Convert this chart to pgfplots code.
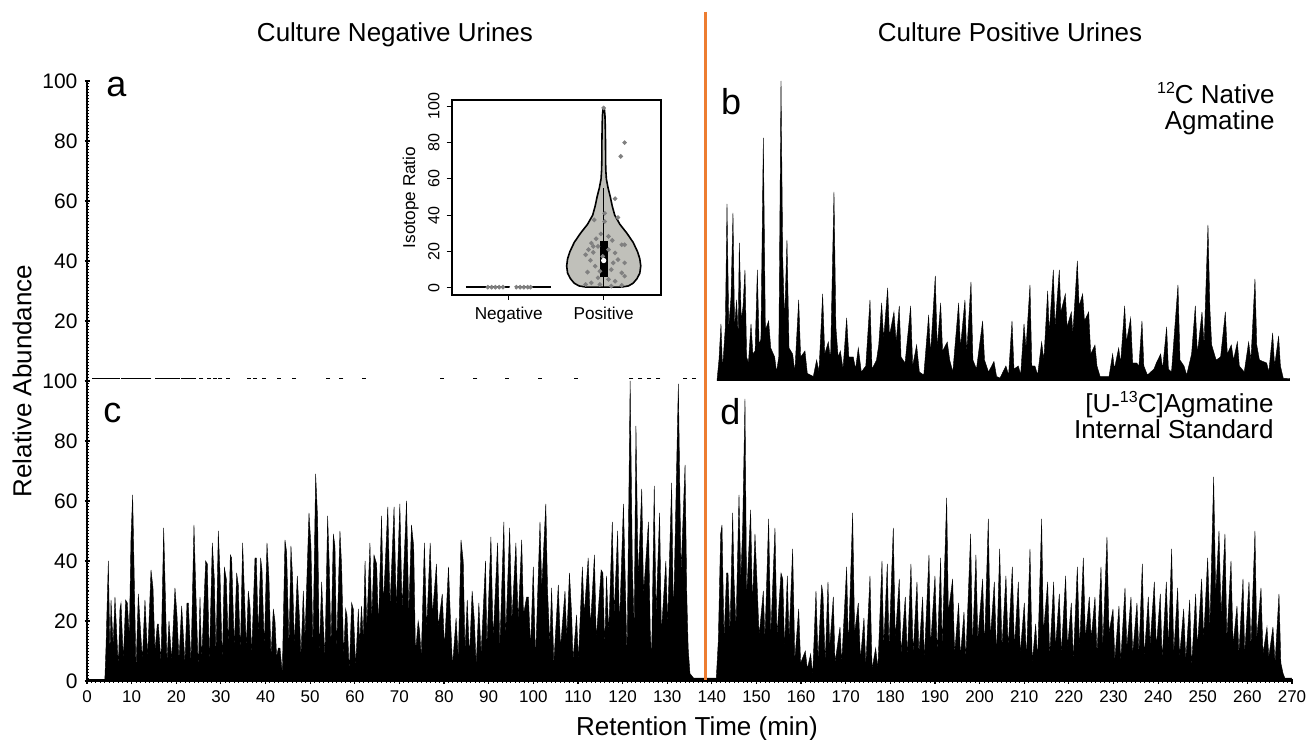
\documentclass[border=0pt]{standalone}
\usepackage{pgfplots}
\pgfplotsset{compat=1.18}
\usepackage{fontspec}
\setmainfont{Liberation Sans}
\definecolor{orangeline}{RGB}{237,125,49}
\definecolor{violinfill}{RGB}{192,192,186}
\definecolor{jit}{RGB}{128,128,128}
\newcommand{\sups}[1]{\raisebox{0.75ex}{\fontsize{8}{9}\selectfont #1}}
\pgfplotsset{
  chrom/.style={scale only axis, width=602.5pt, height=150pt,
    xmin=0, xmax=270, ymin=0, ymax=100,
    tick align=outside, major tick length=2.5pt, minor tick length=1.5pt,
    every tick/.style={black, line width=0.6pt},
    minor tick style={line width=0.5pt},
    /pgf/number format/assume math mode=true,
    yticklabel style={font=\fontsize{10.5}{12}\selectfont},
    xticklabel style={font=\fontsize{8.5}{10}\selectfont},
  }
}
\begin{document}
\begin{tikzpicture}[x=1pt,y=1pt]
\path[use as bounding box, fill=white] (0,0) rectangle (655.5,369.5);
% ---------------- bottom panel (c, d) ----------------
\begin{axis}[chrom, at={(43.5pt,29pt)}, anchor=south west,
  axis x line=bottom, axis y line=left,
  axis line style={-, line width=0.8pt},
  x axis line style={-}, y axis line style={-},
  xtick={0,10,...,270}, minor x tick num=9,
  ytick={0,20,...,100}, minor y tick num=19]
\addplot[fill=black, draw=black, line width=0.2pt] coordinates {
(0,0.6) (4.0,0.6) (4.25,11) (4.78,40) (5.15,8) (5.38,27) (5.85,12) (6.27,28) (7.02,4.7) (7.39,24) (7.62,26) (8.14,7)
(8.66,27) (9.03,26) (9.48,15) (9.86,48) (10.23,62) (10.98,3.6) (11.5,29) (11.87,20) (12.4,7) (12.99,27) (13.59,8)
(14.34,37) (14.79,31) (15.23,10) (15.76,19) (15.98,19) (16.58,6.4) (17.18,51) (17.55,29) (17.92,6) (18.37,20)
(18.97,7) (19.71,31) (20.16,22) (20.61,7) (21.21,25) (21.95,6) (22.4,26) (22.7,26) (23.3,6) (23.97,52) (24.42,28)
(24.94,3.6) (25.32,28) (25.69,7) (26.59,40) (26.96,39) (27.41,6) (28.08,46) (28.53,34) (28.9,8) (29.42,50) (29.8,36)
(30.32,6) (30.77,38) (31.22,34) (31.66,11) (32.11,42) (32.41,41) (33.01,11) (33.53,36) (33.9,32) (34.35,9) (34.87,46)
(35.25,30) (35.7,11) (36.14,30) (36.52,25) (36.89,9) (37.64,41) (37.94,41) (38.38,15) (38.91,41) (39.21,37) (39.73,11)
(40.33,46) (40.77,34) (41.22,8) (41.75,24) (42.12,20) (42.49,8) (42.87,11) (43.24,11) (43.76,2.5) (44.36,47) (44.73,43)
(45.26,11) (45.7,45) (46.08,34) (46.45,12) (47.12,35) (47.57,22) (47.94,8) (48.47,30) (48.84,14) (49.74,56) (50.18,45)
(50.63,11) (51.23,69) (51.68,54) (52.05,9) (52.58,33) (52.87,22) (53.32,8) (53.92,55) (54.29,38) (54.67,11) (55.19,49)
(55.56,45) (55.93,10) (56.68,50) (57.06,38) (57.5,8) (57.95,24) (58.25,22) (58.77,3) (59.3,26) (59.67,24) (60.19,5)
(60.8,24) (61.1,12) (61.5,25) (61.9,14) (62.3,40) (62.7,18) (63.4,46) (63.8,20) (64.3,42) (64.9,39) (65.3,18) (66.0,55)
(66.4,25) (67.4,58) (67.9,25) (68.8,58) (69.3,24) (70.1,59) (70.6,24) (71.6,60) (72.1,22) (72.7,52) (73.2,45) (73.6,9)
(74.2,20) (74.5,17) (74.9,8) (75.6,46) (76.1,17) (76.9,46) (77.4,22) (78.3,39) (78.7,18) (79.6,29) (80.1,11) (81.0,38)
(81.4,22) (81.9,5) (82.7,21) (83.2,7) (83.8,47) (84.3,40) (84.7,10) (85.2,27) (85.7,8) (86.3,30) (86.8,20) (87.2,5)
(87.8,26) (88.3,9) (89.3,40) (89.6,11) (90.5,48) (91.0,14) (92.0,46) (92.5,11) (93.4,53) (93.8,14) (94.7,51) (95.2,20)
(96.1,46) (96.6,20) (97.4,47) (97.8,22) (98.5,28) (98.9,28) (99.4,11) (100.0,38) (100.5,7) (101.5,53) (101.9,31)
(102.8,59) (103.2,30) (103.7,12) (104.1,31) (104.6,6) (105.6,32) (106.1,11) (107.1,30) (107.5,14) (108.1,36) (108.6,22)
(108.9,7) (109.7,22) (110.1,7) (111.0,38) (111.4,22) (112.3,41) (112.8,18) (113.7,42) (114.1,14) (115.2,37) (115.6,36)
(116.0,11) (116.4,35) (116.9,16) (117.7,53) (118.1,22) (118.9,50) (119.3,18) (120.2,59) (120.6,34) (121.0,8) (121.7,100)
(122.2,38) (122.6,18) (123.0,85) (123.5,34) (124.3,64) (124.7,29) (125.8,53) (126.2,17) (126.5,7) (127.1,65) (127.5,22)
(128.3,56) (128.7,16) (129.7,40) (130.1,19) (131.0,66) (131.4,20) (132.5,99) (133.1,36) (134.0,72) (134.4,28) (134.7,11)
(135.1,2.5) (135.9,1) (141.0,1)
(141.46,13.6) (141.98,49) (142.28,52) (142.73,14) (143.32,36) (143.62,36) (144.07,16) (144.67,56) (144.97,34) (145.42,18)
(146.09,62) (146.5,34) (146.91,51) (147.43,94) (147.8,28) (148.7,57) (149.1,25) (149.67,49) (150.1,34) (150.6,15)
(151.54,30) (151.9,14) (152.73,54) (153.2,15) (154.15,51) (154.6,15) (155.5,36) (155.9,34) (156.3,11) (156.92,35)
(157.3,14) (158.11,44) (158.6,7) (159.46,24) (159.9,6) (160.95,10) (161.4,4) (162.14,9) (162.6,2) (163.34,30) (163.8,7)
(164.61,32) (164.9,29) (165.4,6) (166.03,33) (166.4,11) (167.22,28) (167.6,6) (168.72,18) (169.1,6) (170.21,38)
(170.6,11) (171.55,56) (172.0,16) (172.82,26) (173.3,7) (174.09,21) (174.5,5) (175.44,35) (175.9,4) (176.71,11)
(177.2,4) (178.13,40) (178.5,11) (179.32,39) (179.7,11) (180.66,51) (181.1,14) (182.0,34) (182.4,9) (183.35,28)
(183.8,8) (184.62,39) (185.1,9) (185.97,33) (186.4,9) (187.24,28) (187.6,7) (188.66,42) (189.0,11) (190.0,35) (190.5,9)
(191.27,41) (191.6,11) (192.62,61) (193.0,23) (193.96,34) (194.4,9) (195.3,26) (195.7,8) (196.5,23) (196.9,7)
(197.99,49) (198.4,11) (199.18,42) (199.6,14) (200.68,34) (201.1,11) (201.95,54) (202.4,14) (203.3,33) (203.8,8)
(204.5,44) (205.0,11) (205.9,35) (206.4,11) (207.33,38) (207.8,11) (208.68,33) (209.1,9) (210.02,26) (210.5,7)
(211.29,44) (211.8,6) (212.56,19) (213.0,7) (213.9,54) (214.3,16) (215.25,33) (215.7,8) (216.59,33) (217.0,11)
(217.86,29) (218.3,9) (219.28,35) (219.7,11) (220.55,26) (221.0,7) (221.9,38) (222.4,11) (223.24,41) (223.7,14)
(224.58,28) (225.0,14) (225.85,28) (226.3,9) (227.2,38) (227.6,11) (228.54,48) (229.0,16) (229.89,24) (230.3,7)
(231.23,25) (231.6,6) (232.58,31) (233.0,11) (233.92,28) (234.3,9) (235.26,26) (235.7,9) (236.46,39) (236.9,8)
(237.8,28) (238.2,12) (239.15,33) (239.6,11) (240.49,29) (240.9,7) (241.84,33) (242.3,11) (243.03,44) (243.5,9)
(244.38,31) (244.8,8) (245.72,24) (246.2,7) (247.07,27) (247.5,5) (248.41,29) (248.8,11) (249.75,34) (250.2,14)
(251.1,41) (251.6,18) (252.44,68) (252.9,29) (253.64,50) (254.1,22) (254.98,49) (255.4,14) (256.33,40) (256.8,12)
(257.67,25) (258.1,9) (259.02,34) (259.4,9) (260.36,33) (260.8,11) (261.7,50) (262.1,14) (263.05,31) (263.5,9)
(264.39,18) (264.8,8) (265.73,18) (266.2,6) (267.08,29) (267.5,6) (268.0,2.5) (268.4,1) (269.9,1)
} \closedcycle;
\end{axis}
% ---------------- top panel (a, b) ----------------
\begin{axis}[chrom, at={(43.5pt,179pt)}, anchor=south west,
  axis x line=none, axis y line=left,
  axis line style={-, line width=0.8pt}, y axis line style={-},
  xtick=\empty,
  ytick={0,20,...,100}, yticklabels={,20,40,60,80,100}, minor y tick num=19]
\addplot[only marks, mark=-, mark size=1.0pt, mark options={line width=0.9pt}] coordinates {
(1.5,0.8) (2.3,0.8) (3.1,0.8) (3.8,0.8) (4.6,0.8) (5.5,0.8) (6.2,0.8) (7.0,0.8) (8.1,0.8) (8.9,0.8) (9.7,0.8)
(10.5,0.8) (11.4,0.8) (12.3,0.8) (13.1,0.8) (14.0,0.8) (15.6,0.8) (16.4,0.8) (17.2,0.8) (18.0,0.8) (18.9,0.8)
(19.7,0.8) (20.5,0.8) (21.4,0.8) (22.3,0.8) (23.1,0.8) (24.0,0.8) (25.6,0.8) (27.4,0.8) (28.6,0.8) (29.9,0.8)
(31.5,0.8) (36.2,0.8) (37.6,0.8) (39.6,0.8) (43.0,0.8) (46.4,0.8) (54.0,0.8) (57.0,0.8) (62.0,0.8) (79.5,0.8)
(87.0,0.8) (94.0,0.8) (101.5,0.8) (109.5,0.8) (122.0,0.8) (124.0,0.8) (126.0,0.8) (128.0,0.8) (134.0,0.8) (136.0,0.8)};
\addplot[fill=black, draw=black, line width=0.2pt] coordinates {
(141.2,0.8) (141.6,7) (142.05,19) (142.4,4) (143.03,18) (143.4,59) (143.8,18) (144.3,28) (144.74,56) (145.1,18)
(145.56,27) (145.9,15) (146.16,46) (146.6,20) (147.0,25) (147.43,37) (147.8,8) (148.2,6) (148.78,19) (149.2,9)
(149.7,10) (150.2,37) (150.6,12) (151.0,14) (151.54,81) (152.0,17) (152.73,20) (153.2,11) (154.08,8) (154.5,3)
(155.0,8) (155.5,100) (155.9,40) (156.3,20) (156.84,47) (157.3,11) (158.11,9) (158.6,3) (159.46,27) (159.9,8)
(160.87,10) (161.4,2.5) (162.74,1.5) (163.49,7) (164.0,3) (164.83,29) (165.3,9) (166.1,13) (166.6,7) (167.37,63)
(167.8,18) (168.3,8) (168.8,10) (169.4,4) (170.21,21) (170.7,8) (171.7,8) (172.2,4) (172.82,11) (173.5,3) (174.5,5)
(175.44,27) (175.9,4) (176.9,7) (177.4,12) (178.05,26) (178.5,14) (179.4,31) (179.8,15) (180.81,23) (181.3,13)
(182.0,25) (182.4,8) (183.3,6) (184.55,25) (185.0,5) (185.89,12) (186.5,3) (187.5,2) (188.58,22) (189.0,9)
(190.07,35) (190.5,11) (191.27,26) (191.7,10) (192.76,13) (193.3,7) (194.0,3) (195.3,26) (195.7,11) (196.72,27)
(197.1,9) (198.07,33) (198.5,7) (199.3,4) (200.68,20) (201.1,7) (202.0,3) (203.22,6.5) (203.8,1.5) (204.57,1)
(205.9,5) (206.5,2) (207.26,20) (207.7,4) (208.68,5) (209.2,2) (209.95,19) (210.4,11) (211.29,32) (211.7,5)
(212.4,5) (213.0,2) (213.9,13) (214.4,7) (215.25,30) (215.6,16) (216.52,37) (216.9,18) (217.86,37) (218.2,23)
(219.21,29) (219.6,18) (220.55,23) (220.9,16) (221.9,40) (222.3,25) (223.09,29) (223.5,20) (224.44,23) (224.9,9)
(225.85,12) (226.3,5) (227.0,1.5) (229.0,1.5) (229.81,9) (230.2,4) (231.16,11) (231.6,6) (232.5,25) (232.9,13)
(233.85,21) (234.3,6) (235.2,6) (235.7,5) (236.38,20) (236.8,5) (237.6,2) (239.07,4) (239.6,6) (240.57,9) (241.0,4)
(241.91,18) (242.3,4) (243.0,3) (244.45,32) (244.9,7) (245.8,5) (246.4,2) (247.5,9) (248.33,25) (248.8,9)
(249.83,23) (250.3,12) (251.17,52) (251.6,24) (252.0,12) (253.0,7) (254.0,8) (255.06,23) (255.5,9) (256.4,12)
(256.9,7) (257.75,13) (258.2,5) (259.3,3) (260.28,13) (260.8,7) (261.7,34) (262.1,12) (262.7,7) (264.32,6)
(264.8,3) (265.66,16) (266.1,5) (267.0,15) (267.4,5) (268.05,0.9) (269.5,0.8)
} \closedcycle;
\end{axis}
% ---------------- inset violin ----------------
\begin{axis}[at={(225.85pt,222pt)}, anchor=south west,
  scale only axis, width=104.5pt, height=97.5pt,
  axis background/.style={fill=white},
  xmin=0.4, xmax=2.6, ymin=-4, ymax=103.5,
  axis line style={line width=0.8pt},
  xtick={1,2}, xticklabels={Negative,Positive},
  ytick={0,20,...,100}, xtick pos=left, ytick pos=left,
  tick align=outside, major tick length=2.5pt,
  every tick/.style={black, line width=0.6pt},
  /pgf/number format/assume math mode=true,
  yticklabel style={rotate=90, anchor=south, font=\fontsize{8}{9}\selectfont},
  xticklabel style={font=\fontsize{8.6}{10}\selectfont},
  ylabel={Isotope Ratio}, ylabel style={font=\fontsize{8.6}{10}\selectfont, yshift=-2pt}]
\addplot[fill=violinfill, draw=black, line width=0.8pt] coordinates {
(2.18,0.3) (2.26,1) (2.31,2.5) (2.35,5) (2.38,8) (2.39,12) (2.38,16) (2.355,20) (2.31,25) (2.245,30) (2.17,35)
(2.116,40) (2.09,45) (2.07,50) (2.046,55) (2.028,60) (2.022,65) (2.02,70) (2.019,80) (2.016,90) (2.013,95) (2.008,98)
(2,99) (1.992,98) (1.987,95) (1.984,90) (1.981,80) (1.98,70) (1.978,65) (1.972,60) (1.954,55) (1.93,50) (1.91,45)
(1.884,40) (1.83,35) (1.755,30) (1.69,25) (1.645,20) (1.62,16) (1.61,12) (1.62,8) (1.65,5) (1.69,2.5) (1.74,1) (1.82,0.3)
} -- cycle;
\addplot[black, line width=1.1pt] coordinates {(0.55,0.3) (1.45,0.3)};
\addplot[only marks, mark=*, mark size=0.95pt, jit, mark options={draw=jit, fill=jit}] coordinates {
(0.78,0.3) (0.82,0.3) (0.86,0.3) (0.9,0.3) (0.94,0.3) (1.08,0.3) (1.12,0.3) (1.16,0.3) (1.2,0.3) (1.23,0.3)
(2.0,99.1) (2.22,80) (2.18,72.4) (2.12,49.1) (1.9,37.4) (2.15,38.7) (1.92,27) (1.97,29.7) (1.87,24.6) (2.05,28.3)
(2.09,26.1) (2.19,23.7) (2.22,23.7) (1.84,21) (1.89,19.5) (1.94,22.8) (2.05,21) (2.12,19.2) (2.15,15.5) (1.86,15.1)
(1.99,17.3) (1.91,11.9) (1.96,9.1) (1.83,8.6) (2.08,10) (2.19,8.2) (2.22,6.4) (2.12,3.6) (1.87,2.7) (1.81,1.8)
(1.96,1.8) (2.19,1.3) (2.05,4.6) (2.01,36.5) (2.01,41) (1.89,22.8) (2.1,13.7) (1.94,5.5) (2.08,0.9) (2.22,13.7) (1.81,18.2)};
\addplot[black, line width=0.6pt] coordinates {(2,0.5) (2,55)};
\addplot[fill=black, draw=black, line width=0.3pt] coordinates {(1.965,6.4) (2.035,6.4) (2.035,25.5) (1.965,25.5)} -- cycle;
\addplot[only marks, mark=*, mark size=1.1pt, mark options={draw=white, fill=white}] coordinates {(2,15) (1.036,0.3)};
\end{axis}
% ---------------- decorations and labels ----------------
\draw[orangeline, line width=1.5pt] (352.5,363.5) -- (352.5,29.5);
\node[anchor=base, font=\fontsize{13}{15}\selectfont] at (197.5,348.5) {Culture Negative Urines};
\node[anchor=base, font=\fontsize{13}{15}\selectfont] at (505,348.5) {Culture Positive Urines};
\node[anchor=base west, inner sep=0pt, font=\fontsize{18}{20}\selectfont] at (53,321) {a};
\node[anchor=base west, inner sep=0pt, font=\fontsize{18}{20}\selectfont] at (360.3,312) {b};
\node[anchor=base west, inner sep=0pt, font=\fontsize{18}{20}\selectfont] at (51.5,158) {c};
\node[anchor=base west, inner sep=0pt, font=\fontsize{18}{20}\selectfont] at (360,157) {d};
\node[anchor=base east, inner sep=0pt, font=\fontsize{13}{15}\selectfont] at (637.5,317.5) {\sups{12}C Native};
\node[anchor=base east, inner sep=0pt, font=\fontsize{13}{15}\selectfont] at (637.5,304.5) {Agmatine};
\node[anchor=base east, inner sep=0pt, font=\fontsize{13}{15}\selectfont] at (637,163) {[U-\sups{13}C]Agmatine};
\node[anchor=base east, inner sep=0pt, font=\fontsize{13}{15}\selectfont] at (637,150) {Internal Standard};
\node[anchor=base, inner sep=0pt, font=\fontsize{13}{15}\selectfont] at (348.5,2) {Retention Time (min)};
\node[rotate=90, inner sep=0pt, font=\fontsize{13}{15}\selectfont] at (11,179) {Relative Abundance};
\end{tikzpicture}
\end{document}
